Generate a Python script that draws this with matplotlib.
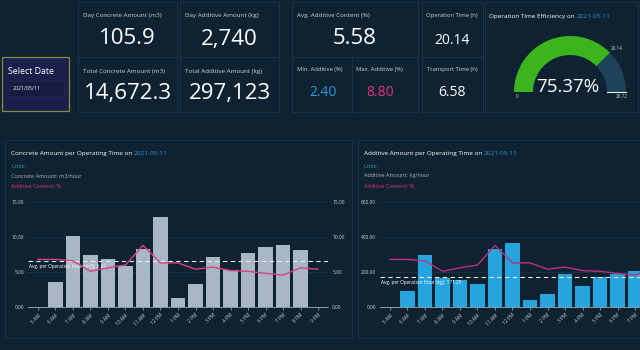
import numpy as np
import matplotlib
matplotlib.use('Agg')
import matplotlib.pyplot as plt
from matplotlib.patches import Rectangle, Wedge

plt.rcParams['font.family'] = ['Open Sans', 'DejaVu Sans']

# ── DATA ─────────────────────────────────────────────────────────────────────
date_str = '2021-05-11'
hours = ['5 AM', '6 AM', '7 AM', '8 AM', '9 AM', '10 AM', '11 AM', '12 PM', '1 PM',
         '2 PM', '3 PM', '4 PM', '5 PM', '6 PM', '7 PM', '8 PM', '9 PM']
concrete = [0, 3.6, 10.1, 7.5, 6.8, 5.8, 8.35, 12.9, 1.25, 3.3, 7.1, 5.25, 7.7, 8.6, 8.8, 8.15, 0]
additive = [0, 90, 300, 167, 155, 131, 330, 365, 38, 76, 188, 118, 170, 186, 206, 220, 0]
content = [6.8, 6.8, 6.6, 5.1, 5.6, 6.0, 8.8, 6.3, 6.3, 5.4, 5.7, 5.2, 5.1, 4.8, 4.55, 5.6, 5.4]
avg_concrete = 6.62
avg_additive = 171.25

kpis = {
    'day_concrete': '105.9', 'day_additive': '2,740',
    'total_concrete': '14,672.3', 'total_additive': '297,123',
    'avg_content': '5.58', 'min_content': '2.40', 'max_content': '8.80',
    'op_time': '20.14', 'transport': '6.58',
}
op_hours = 20.14
total_hours = 26.72

# ── COLOURS ──────────────────────────────────────────────────────────────────
BG = '#0f2232'
EDGE = '#1e364a'
LABEL = '#cdd4da'
BLUE = '#2a9ad8'
PINK = '#e0357a'

W, H = 640, 350
fig = plt.figure(figsize=(W / 100, H / 100), dpi=100, facecolor=BG)

base = fig.add_axes([0, 0, 1, 1])
base.set_xlim(0, W)
base.set_ylim(H, 0)
base.axis('off')


def px_axes(x0, y0, x1, y1):
    return fig.add_axes([x0 / W, 1 - y1 / H, (x1 - x0) / W, (y1 - y0) / H])


def panel(x0, y0, x1, y1, fc=BG, ec=EDGE, lw=0.6):
    base.add_patch(Rectangle((x0, y0), x1 - x0, y1 - y0, fc=fc, ec=ec, lw=lw))


def txt(x, y, s, size, color=LABEL, ha='left', va='center', **kw):
    return base.text(x, y, s, fontsize=size, color=color, ha=ha, va=va, **kw)


def two_tone(x, y, s1, s2, size, c1='white', c2=BLUE):
    t = txt(x, y, s1, size, c1, va='bottom')
    base.annotate(s2, xy=(1, 0), xycoords=t, xytext=(1.3, 0), textcoords='offset points',
                  fontsize=size, color=c2, ha='left', va='bottom')


# ── TOP KPI ROW ──────────────────────────────────────────────────────────────
panel(2, 57, 69, 111, fc='#1b1f4b', ec='#8b8a43', lw=0.9)
txt(8, 72, 'Select Date', 6.3, 'white')
panel(9, 81, 64, 96, fc='#171b3f', ec='#262b58', lw=0.5)
txt(13, 88.5, '2021/05/11', 3.8, 'white')

cards = [
    (78, 2, 177, 57, 'Day Concrete Amount (m3)', kpis['day_concrete']),
    (180, 2, 279, 57, 'Day Additive Amount (kg)', kpis['day_additive']),
    (78, 57, 177, 112, 'Total Concrete Amount (m3)', kpis['total_concrete']),
    (180, 57, 279, 112, 'Total Additive Amount (kg)', kpis['total_additive']),
    (292, 2, 418, 57, 'Avg. Additive Content (%)', kpis['avg_content']),
]
for x0, y0, x1, y1, title, val in cards:
    panel(x0, y0, x1, y1)
    txt(x0 + 5, y0 + 14, title, 4.5)
    txt((x0 + x1) / 2, y0 + 37, val, 16, 'white', ha='center')

panel(292, 57, 352, 112)
txt(297, 70, 'Min. Additive (%)', 4.2)
txt(323, 92, kpis['min_content'], 10, BLUE, ha='center')
panel(352, 57, 418, 112)
txt(356, 70, 'Max. Additive (%)', 4.2)
txt(380, 92, kpis['max_content'], 10, PINK, ha='center')

panel(422, 2, 483, 57)
txt(452, 15, 'Operation Time (h)', 4.2, ha='center')
txt(452, 40, kpis['op_time'], 10, 'white', ha='center')
panel(422, 57, 483, 112)
txt(452, 70, 'Transport Time (h)', 4.2, ha='center')
txt(452, 92, kpis['transport'], 10, 'white', ha='center')

# gauge
panel(485, 2, 638, 112)
two_tone(489, 19, 'Operation Time Efficiency on', date_str, 4.6)
cx, cy, r_out, r_in = 570, 92, 56, 37
frac = op_hours / total_hours
split = 180 + 180 * frac
base.add_patch(Wedge((cx, cy), r_out, 180, split, width=r_out - r_in, fc='#3cb41e', ec='none'))
base.add_patch(Wedge((cx, cy), r_out, split, 360, width=r_out - r_in, fc='#1e4257', ec='none'))
base.plot([cx + r_in, cx + r_out], [cy, cy], color='#e8eef2', lw=0.8)
txt(cx - 2, cy - 5, f'{frac * 100:.2f}%', 13.5, 'white', ha='center')
txt(cx - r_out + 2, cy + 5, '0', 3.3)
txt(cx + r_out - 4, cy + 5, f'{total_hours:.2f}', 3.3, ha='center')
ang = np.deg2rad(split)
txt(cx + 62 * np.cos(ang) + 2, cy + 62 * np.sin(ang), f'{op_hours:.2f}', 3.3, ha='center')

# ── BOTTOM CHARTS ────────────────────────────────────────────────────────────
panel(5, 140, 352, 338)
panel(358, 140, 700, 338)


def chart(x0, px_left, title, unit, bars, color, ymax, step, avg, avg_label, line_color):
    two_tone(x0 + 6, 156, title, date_str, 4.6)
    txt(x0 + 6, 166, 'Units:', 4, BLUE)
    txt(x0 + 6, 176, unit, 4, '#aab4bd')
    txt(x0 + 6, 186, 'Additive Content: %', 4, PINK)

    width_px = 300
    ax = px_axes(px_left, 202, px_left + width_px, 307)
    ax.set_facecolor('none')
    x = np.arange(len(hours))
    lo, hi = -0.57, 16.57
    ax.bar(x, bars, width=0.84, color=color, zorder=2)
    ax.set_xlim(lo, hi)
    ax.set_ylim(0, ymax)
    ax.set_yticks(np.arange(0, ymax + step / 2, step))
    ax.yaxis.set_major_formatter(lambda v, p: f'{v:.2f}')
    ax.grid(axis='y', color='#1c3447', lw=0.6, zorder=0)
    ax.set_xticks(x)
    # labels whose tick falls past the right edge of the screenshot are dropped
    tick_px = px_left + (x - lo) / (hi - lo) * width_px
    ax.set_xticklabels([h if p < W - 2 else '' for h, p in zip(hours, tick_px)],
                       rotation=45, ha='right', rotation_mode='anchor')
    ax.tick_params(axis='x', length=2, width=0.5, color='#aab4bd', labelsize=3.5,
                   labelcolor=LABEL, pad=2)
    ax.tick_params(axis='y', length=0, labelsize=3.5, labelcolor=LABEL, pad=3)
    for s in ['top', 'right', 'left']:
        ax.spines[s].set_visible(False)
    ax.spines['bottom'].set_color('#c0c8d0')
    ax.spines['bottom'].set_linewidth(0.5)
    ax.axhline(avg, color='#e8eef2', lw=0.8, dashes=(4, 3), zorder=4)
    ax.text(-0.5, avg - ymax * 0.03, avg_label, fontsize=3.4, color='white',
            ha='left', va='top', zorder=5)

    ax2 = ax.twinx()
    ax2.plot(x, content, color=line_color, lw=1, zorder=3)
    ax2.set_ylim(0, 15)
    ax2.set_yticks([0, 5, 10, 15])
    ax2.yaxis.set_major_formatter(lambda v, p: f'{v:.2f}')
    ax2.tick_params(axis='y', length=0, labelsize=3.5, labelcolor=LABEL, pad=3,
                    labelright=px_left + width_px + 30 < W)
    for s in ['top', 'right', 'left', 'bottom']:
        ax2.spines[s].set_visible(False)
    return ax


chart(5, 28, 'Concrete Amount per Operating Time on', 'Concrete Amount: m3/hour',
      concrete, '#a8b7c3', 15, 5, avg_concrete,
      f'Avg. per Operation Hour (m3): {avg_concrete:.2f}', '#d8447f')
chart(358, 380, 'Additive Amount per Operating Time on', 'Additive Amount: kg/hour',
      additive, '#25a4de', 600, 200, avg_additive,
      f'Avg. per Operation Hour (kg): {avg_additive:.2f}', '#b8317e')

fig.savefig('out.png', dpi=100, facecolor=BG)
